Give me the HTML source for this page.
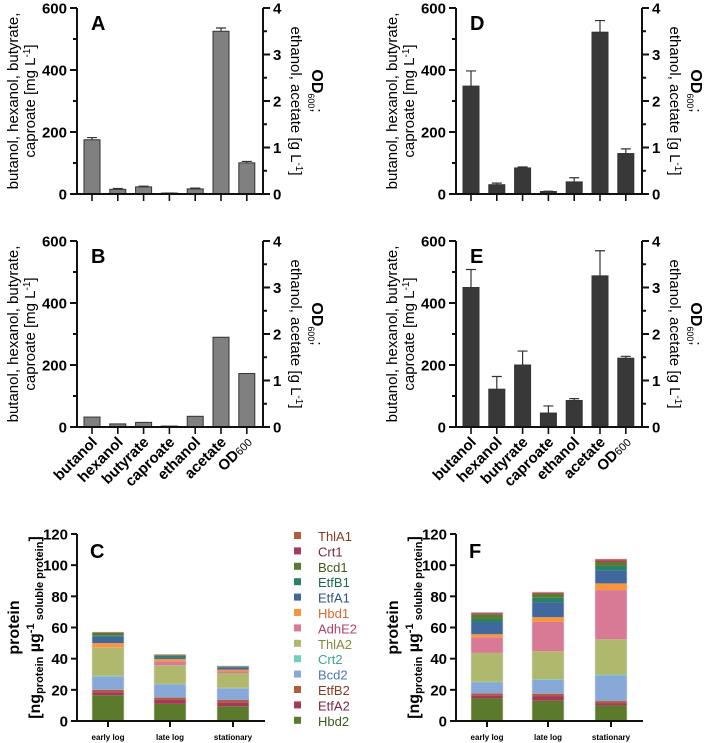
<!DOCTYPE html>
<html><head><meta charset="utf-8"><style>
body{margin:0;background:#fff}
svg{display:block;font-family:"Liberation Sans",sans-serif}
</style></head><body>
<svg id="fig" width="709" height="743" viewBox="0 0 709 743" xmlns="http://www.w3.org/2000/svg"></svg>
<script>
const categories = ["butanol","hexanol","butyrate","caproate","ethanol","acetate","OD600"];
// first four in mg/L (left axis), last three in g/L or OD (right axis)
const valuesA = [175,15,23,3,0.11,3.5,0.67];
const errorsA = [182,18,25,3,0.127,3.57,0.70];
const valuesB = [32,10,15,3,0.23,1.93,1.15];
const errorsB = [null,null,null,null,null,null,null];
const valuesD = [348,30,84,8,0.26,3.48,0.87];
const errorsD = [397,35,87,9,0.35,3.73,0.97];
const valuesE = [450,122,200,45,0.57,3.25,1.48];
const errorsE = [508,163,245,68,0.61,3.79,1.52];
const leftTicks = [0,200,400,600];
const rightTicks = [0,1,2,3,4];
const proteinTicks = [0,20,40,60,80,100,120];
const phases = ["early log","late log","stationary"];
const proteins = ["Hbd2","EtfA2","EtfB2","Bcd2","Crt2","ThlA2","AdhE2","Hbd1","EtfA1","EtfB1","Bcd1","Crt1","ThlA1"];
const stackC = [
 [16.5,2,1.5,8.5,0.5,18,0.3,2.7,4,1,1.5,0.3,0.3],
 [11,2.5,1.5,8.5,0.3,12,2.5,1.5,1,1,0.5,0.3,0.2],
 [9.5,2.5,1.5,7.5,0.3,9.5,1.2,1,1.5,0.3,0.2,0.2,0.2]
];
const stackF = [
 [14.5,2,1.2,7,0.5,18.5,10,2,7.5,2.3,3,0.7,0.5],
 [13,3,1.5,8.8,0.5,18,18.8,3,9.5,3,2.5,0.7,0.5],
 [10,1.5,1.3,16.5,0.5,22.7,31.5,4.3,8.2,3,2.5,1.2,0.8]
];
const colors = ["#5b7a2b","#a33a5c","#b25c3c","#88a8d8","#6fd0b8","#b0b86e","#d87996","#f9953c","#41679f","#2a8068","#5b7a2b","#a83a5c","#b25c3c"];
const textColors = ["#3f5a1a","#7a2540","#8a3a20","#4b74b8","#3aa890","#7f8a3a","#b0406a","#d86a30","#2e5285","#1e6a50","#3f5a1a","#7a2540","#8a3a20"];

const NS="http://www.w3.org/2000/svg";
const svg=document.getElementById('fig');
function mk(tag,attrs,parent,text){const e=document.createElementNS(NS,tag);for(const k in attrs)e.setAttribute(k,attrs[k]);if(text!==undefined)e.textContent=text;(parent||svg).appendChild(e);return e;}
function line(p,x1,y1,x2,y2,w){return mk('line',{x1,y1,x2,y2,stroke:'#111','stroke-width':w||2},p);}

function topPanel(letter,ox,y0,vals,errs,fill,showLabels){
  const g=mk('g',{});
  
  
  const H=186, ytop=y0-H, rx=ox+186;
  const yL=v=>y0-v/600*H, yR=v=>y0-v/4*H;
  const xc=i=>ox+15+i*25.8;
  vals.forEach((v,i)=>{
    const yf=i<4?yL:yR;
    const b=mk('rect',{x:xc(i)-8,y:yf(v),width:16,height:Math.max(0,y0-yf(v)),fill:fill,stroke:'#333','stroke-width':1},g);
    
    
    if(errs[i]!=null){
      const e=mk('path',{d:`M${xc(i)},${yf(v)}V${yf(errs[i])}M${xc(i)-5},${yf(errs[i])}H${xc(i)+5}`,stroke:'#333','stroke-width':1.2,fill:'none'},g);
      
      
    }
  });
  line(g,ox,ytop,ox,y0+1);line(g,rx,ytop,rx,y0+1);line(g,ox,y0,rx,y0);
  for(let v=0;v<=600;v+=100){const y=yL(v);line(g,ox-(v%200?4:7),y,ox,y);}
  leftTicks.forEach(v=>{const t=mk('text',{x:ox-10,y:yL(v)+5.5,'text-anchor':'end','font-size':15,'font-weight':'bold'},g,v);});
  for(let v=0;v<=4;v+=0.5){const y=yR(v);line(g,rx,y,rx+(v%1?4:7),y);}
  rightTicks.forEach(v=>{const t=mk('text',{x:rx+10,y:yR(v)+5.5,'font-size':15,'font-weight':'bold'},g,v);});
  categories.forEach((c,i)=>line(g,xc(i),y0,xc(i),y0+7,1.6));
  const L=mk('text',{x:ox+14,y:ytop+22,'font-size':20,'font-weight':'bold'},g,letter);
  
  const cy=ytop+93;
  const yl=mk('text',{transform:`translate(${ox-59},${cy}) rotate(-90)`,'text-anchor':'middle','font-size':15},g);
  
  mk('tspan',{x:0,y:0},yl,'butanol, hexanol, butyrate,');
  mk('tspan',{x:0,y:17},yl,'caproate [mg L');
  mk('tspan',{'baseline-shift':'super','font-size':10},yl,'-1');
  mk('tspan',{},yl,']');
  const yr=mk('text',{transform:`translate(${rx+28},${cy}) rotate(90)`,'text-anchor':'middle','font-size':15},g);
  
  mk('tspan',{x:-10,y:-21,'font-weight':'bold','font-size':16},yr,'OD');
  mk('tspan',{'font-size':9,dy:4},yr,'600');
  mk('tspan',{dy:-4},yr,';');
  mk('tspan',{x:0,y:0},yr,'ethanol, acetate [g L');
  mk('tspan',{'baseline-shift':'super','font-size':10},yr,'-1');
  mk('tspan',{},yr,']');
  if(showLabels){
    categories.forEach((c,i)=>{
      const t=mk('text',{transform:`translate(${xc(i)+6},${y0+16}) rotate(-45)`,'text-anchor':'end','font-size':15,'font-weight':'bold'},g);
      
      if(c==='OD600'){mk('tspan',{},t,'OD');mk('tspan',{'font-size':11,'font-weight':'normal'},t,'600');}
      else t.textContent=c;
    });
  }
}
topPanel('A',77,194,valuesA,errorsA,'#808080',false);
topPanel('B',77,427,valuesB,errorsB,'#808080',true);
topPanel('D',456,194,valuesD,errorsD,'#383838',false);
topPanel('E',456,427,valuesE,errorsE,'#383838',true);

function proteinPanel(letter,ox,xEnd,centers,data){
  const g=mk('g',{});
  
  
  const y0=721,H=187;const y=v=>y0-v/120*H;
  data.forEach((stack,j)=>{
    let acc=0;
    stack.forEach((v,k)=>{
      const r=mk('rect',{x:centers[j]-16,y:y(acc+v),width:32,height:v/120*H,fill:colors[k]},g);
      
      
      acc+=v;
    });
    mk('rect',{x:centers[j]-16,y:y(acc),width:32,height:y0-y(acc),fill:'none',stroke:'#ddd','stroke-width':0.6},g);
  });
  line(g,ox,y(120),ox,y0+1);line(g,ox,y0,xEnd,y0);
  proteinTicks.forEach(v=>{line(g,ox-6,y(v),ox,y(v));
    const t=mk('text',{x:ox-9,y:y(v)+5.5,'text-anchor':'end','font-size':15,'font-weight':'bold'},g,v);
    });
  phases.forEach((p,j)=>{line(g,centers[j],y0,centers[j],y0+6);
    const t=mk('text',{x:centers[j],y:740,'text-anchor':'middle','font-size':8,'font-weight':'bold'},g,p);
    });
  const L=mk('text',{x:ox+13,y:y(120)+24,'font-size':20,'font-weight':'bold'},g,letter);
  
  const yl=mk('text',{transform:`translate(${ox-45},${y(60)}) rotate(-90)`,'text-anchor':'middle','font-size':16,'font-weight':'bold'},g);
  
  mk('tspan',{x:0,y:-13},yl,'protein');
  mk('tspan',{x:0,y:8},yl,'[ng');
  mk('tspan',{'font-size':11,dy:3},yl,'protein');
  mk('tspan',{dy:-3},yl,' µg');
  mk('tspan',{'font-size':11,dy:-6},yl,'-1');
  mk('tspan',{'font-size':11,dy:9},yl,' soluble protein');
  mk('tspan',{dy:-3},yl,']');
}
proteinPanel('C',77,265,[108,170,233],stackC);
proteinPanel('F',456,643,[487,548,611],stackF);

const lg=mk('g',{});


const order=[12,11,10,9,8,7,6,5,4,3,2,1,0];
order.forEach((k,r)=>{
  const yy=536+r*15.4;
  const e=mk('g',{},lg);
  
  
  mk('rect',{x:294,y:yy-4,width:7,height:7,fill:colors[k]},e);
  mk('text',{x:318,y:yy+5,'font-size':13,fill:textColors[k]},e,proteins[k]);
});
</script>
</body></html>
